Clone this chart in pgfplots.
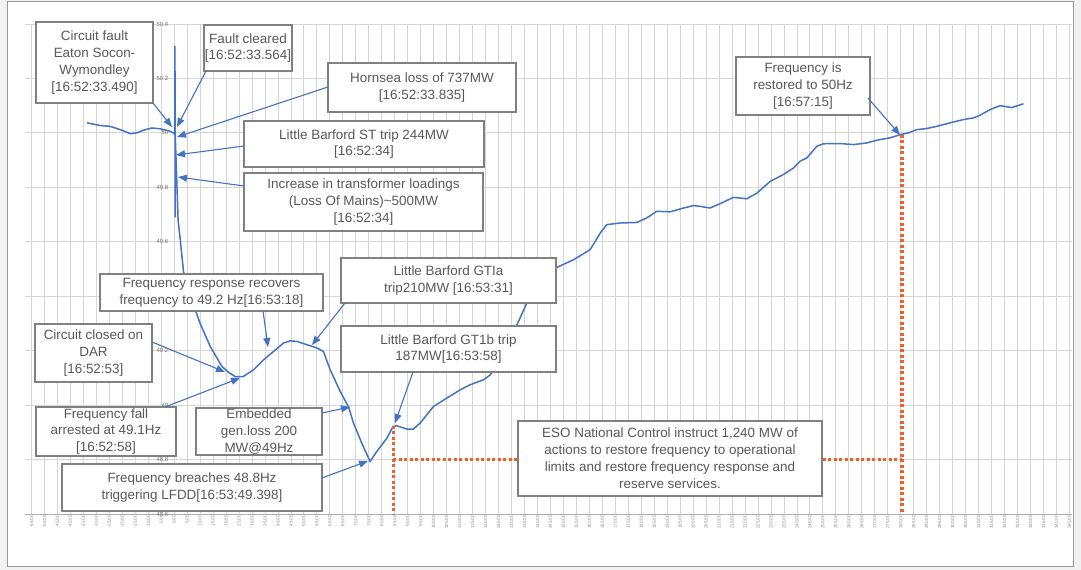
\documentclass[border=0pt]{standalone}
\usepackage{fontspec}
\setmainfont{Liberation Sans}
\usepackage{pgfplots}
\pgfplotsset{compat=1.18}
\usetikzlibrary{arrows.meta}
\definecolor{curve}{RGB}{68,114,196}
\definecolor{txt}{RGB}{89,89,89}
\definecolor{bord}{RGB}{128,128,128}
\definecolor{gridc}{RGB}{214,214,214}
\definecolor{redd}{RGB}{240,95,45}
\newcommand\abox[5]{%
  \draw[bord, line width=1.2bp, fill=white] (#1,#2) rectangle (#3,#4);
  \node[align=center, text=txt, font=\fontsize{13.5}{17}\selectfont, inner sep=0pt] at ({(#1+#3)/2},{(#2+#4)/2}) {#5};}
\begin{document}
\begin{tikzpicture}
\fill[black!5] (0,0) rectangle (1081bp,570bp);
\draw[fill=white, draw=black!40, line width=1bp] (7bp,3bp) rectangle (1073bp,568bp);
\begin{axis}[at={(25bp,56bp)}, anchor=south west, scale only axis,
  width=1047bp, height=490bp,
  xmin=-57.5, xmax=346, ymin=48.6, ymax=50.4,
  axis line style={draw=none},
  xtick={-55,-50,...,345},
  ytick={48.6,48.8,49,49.2,49.4,49.6,49.8,50,50.2,50.4},
  yticklabels={},
  grid=major, grid style={gridc, line width=0.9bp},
  major tick length=0pt,
  /pgf/number format/assume math mode=true,
  xticklabel={\pgfmathprintnumber[fixed,fixed zerofill,precision=2]{\tick}},
  xticklabel style={rotate=90, anchor=east, font=\fontsize{4.5}{5}\selectfont, text=black!45, inner sep=1bp},
  clip=false]
\draw[black!30, line width=1bp] (axis cs:-57.5,48.6) -- (axis cs:346,48.6);
\addplot[curve, line width=1.5bp] coordinates {
(-33.6,50.037) (-28.5,50.027) (-24.7,50.024) (-20.8,50.012) (-16.9,49.997)
(-14.4,50.000) (-11.8,50.010) (-8.6,50.018) (-5.4,50.015) (-1.5,50.006)
(0.2,49.996) (0.3,50.32) (0.35,49.69) (0.4,49.99) (0.8,49.88) (1.5,49.68)
(2.3,49.61) (3.6,49.49) (5.8,49.405) (8.1,49.35) (10,49.30) (13.9,49.215)
(18.4,49.142) (21,49.12) (23.5,49.105) (26.6,49.105) (30.6,49.13) (34.4,49.166)
(38.3,49.197) (42.1,49.228) (44.7,49.236) (47.3,49.234) (51.1,49.222) (55,49.21)
(57.5,49.197) (60.1,49.13) (64,49.05) (67.2,48.993) (69.1,48.934) (72.3,48.86)
(75.5,48.793) (78.1,48.83) (82,48.879) (84.3,48.921) (85.8,48.924) (89.7,48.912)
(92.2,48.912) (94.8,48.934) (99.9,48.995) (105.1,49.026) (110.2,49.056)
(114.1,49.075) (119.2,49.093) (121.8,49.111) (123.1,49.13) (127,49.21)
(132.1,49.295) (135.9,49.375) (141.4,49.443) (147.5,49.506) (153.9,49.534)
(160.3,49.571) (164.2,49.632) (166.7,49.663) (171.9,49.669) (178.3,49.671)
(182.2,49.688) (186,49.712) (191.1,49.71) (196.3,49.724) (200.1,49.733)
(202.7,49.73) (206.5,49.724) (210.4,49.74) (215.5,49.763) (220.7,49.758)
(224.6,49.779) (229.7,49.822) (234.8,49.847) (238.7,49.871) (241.2,49.896)
(243.8,49.908) (247.7,49.951) (250.2,49.96) (256.6,49.961) (261.8,49.957)
(266.9,49.963) (270.8,49.973) (275.9,49.982) (280,49.994) (283,50.0)
(286.2,50.012) (290,50.016) (293.9,50.024) (300.3,50.04) (304.2,50.049)
(308,50.055) (310.6,50.065) (314.5,50.086) (318.3,50.10) (322.8,50.093)
(327.3,50.107)};
\draw[redd, line width=3.3bp, dash pattern=on 3bp off 2.5bp] (axis cs:84.5,48.924) -- (axis cs:84.5,48.6);
\draw[redd, line width=3.3bp, dash pattern=on 3bp off 2.5bp] (axis cs:84.5,48.8) -- (axis cs:132.5,48.8);
\draw[redd, line width=3.3bp, dash pattern=on 3bp off 2.5bp] (axis cs:250,48.8) -- (axis cs:280.5,48.8);
\draw[redd, line width=3.3bp, dash pattern=on 3bp off 2.5bp] (axis cs:280.5,49.994) -- (axis cs:280.5,48.6);
\node[anchor=east, font=\fontsize{6}{7}\selectfont, text=black!55, inner sep=0pt] at (axis cs:-2.2,50.4) {50.4};
\node[anchor=east, font=\fontsize{6}{7}\selectfont, text=black!55, inner sep=0pt] at (axis cs:-2.2,50.2) {50.2};
\node[anchor=east, font=\fontsize{6}{7}\selectfont, text=black!55, inner sep=0pt] at (axis cs:-2.2,50.0) {50};
\node[anchor=east, font=\fontsize{6}{7}\selectfont, text=black!55, inner sep=0pt] at (axis cs:-2.2,49.8) {49.8};
\node[anchor=east, font=\fontsize{6}{7}\selectfont, text=black!55, inner sep=0pt] at (axis cs:-2.2,49.6) {49.6};
\node[anchor=east, font=\fontsize{6}{7}\selectfont, text=black!55, inner sep=0pt] at (axis cs:-2.2,49.2) {49.2};
\node[anchor=east, font=\fontsize{6}{7}\selectfont, text=black!55, inner sep=0pt] at (axis cs:-2.2,49.0) {49};
\node[anchor=east, font=\fontsize{6}{7}\selectfont, text=black!55, inner sep=0pt] at (axis cs:-2.2,48.8) {48.8};
\node[anchor=east, font=\fontsize{6}{7}\selectfont, text=black!55, inner sep=0pt] at (axis cs:-2.2,48.6) {48.6};
\end{axis}
\begin{scope}[shift={(0bp,570bp)}, x=1bp, y=-1bp]
\abox{36}{22}{153}{103}{Circuit fault\\Eaton Socon-\\Wymondley\\{[}16:52:33.490]}
\abox{204}{25}{292}{71}{Fault cleared\\{[}16:52:33.564]}
\abox{328}{63}{516}{112}{Hornsea loss of 737MW\\{[}16:52:33.835]}
\abox{244}{121}{484}{167}{Little Barford ST trip 244MW\\{[}16:52:34]}
\abox{244}{173}{483}{231}{Increase in transformer loadings\\(Loss Of Mains)\textasciitilde500MW\\{[}16:52:34]}
\abox{100}{274}{323}{311}{Frequency response recovers\\frequency to 49.2 Hz[16:53:18]}
\abox{341}{258}{556}{303}{Little Barford GTIa\\trip210MW [16:53:31]}
\abox{35}{324}{152}{382}{Circuit closed on\\DAR\\{[}16:52:53]}
\abox{36}{407}{176}{456}{Frequency fall\\arrested at 49.1Hz\\{[}16:52:58]}
\abox{196}{408}{322}{455}{Embedded\\gen.loss 200\\MW@49Hz}
\abox{62}{464}{322}{511}{Frequency breaches 48.8Hz\\triggering LFDD[16:53:49.398]}
\abox{341}{326}{556}{372}{Little Barford GT1b trip\\187MW[16:53:58]}
\abox{518}{421}{822}{496}{ESO National Control instruct 1,240 MW of\\actions to restore frequency to operational\\limits and restore frequency response and\\reserve services.}
\abox{736}{57}{870}{115}{Frequency is\\restored to 50Hz\\{[}16:57:15]}
\begin{scope}[curve, line width=1.1bp, -{Triangle[length=9bp,width=7bp]}]
\draw (153,103) -- (172,127);
\draw (206,71) -- (177,127);
\draw (328,87) -- (177,137);
\draw (244,146) -- (176,155);
\draw (244,186) -- (178,177);
\draw (263,311) -- (268,347);
\draw (345,303) -- (312,345);
\draw (152,342) -- (225,372);
\draw (165,407) -- (240,378);
\draw (322,413) -- (350,407);
\draw (322,478) -- (368,461);
\draw (413,372) -- (395,423);
\draw (868,98) -- (900,135);
\end{scope}
\end{scope}
\pgfresetboundingbox
\path (0,0) rectangle (1081bp,570bp);
\end{tikzpicture}
\end{document}
